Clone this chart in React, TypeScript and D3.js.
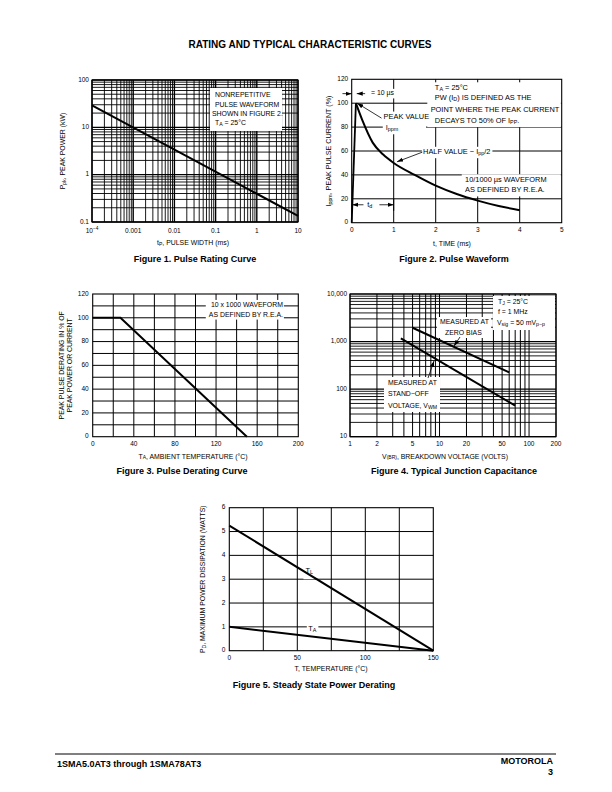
import React from "react";
import * as d3 from "d3";

const FONT = "'Liberation Sans', Arial, Helvetica, sans-serif";

// ---------- Figure 1: Pulse Rating Curve ----------
const fig1PulseWidth = [1e-4, 10];
const fig1PeakPower = [29, 0.135];
const fig1XTicks = [1e-4, 1e-3, 1e-2, 0.1, 1, 10];
const fig1XTickLabels = ["10", "0.001", "0.01", "0.1", "1", "10"];
const fig1YTicks = [0.1, 1, 10, 100];
const fig1YTickLabels = ["0.1", "1", "10", "100"];

// ---------- Figure 2: Pulse Waveform ----------
const fig2Time = [0, 0.1, 0.25, 0.5, 0.75, 1, 1.5, 2, 2.5, 3, 3.5, 4];
const fig2Current = [0, 100, 86, 67, 57, 50, 40, 31, 24, 18.5, 14, 10.5];
const fig2XTicks = [0, 1, 2, 3, 4, 5];
const fig2YTicks = [0, 20, 40, 60, 80, 100, 120];

// ---------- Figure 3: Pulse Derating Curve ----------
const fig3Temp = [0, 27, 150];
const fig3Derating = [100, 100, 0];
const fig3XTicks = [0, 40, 80, 120, 160, 200];
const fig3YTicks = [0, 20, 40, 60, 80, 100, 120];

// ---------- Figure 4: Typical Junction Capacitance ----------
const fig4ZeroBiasV = [5, 60];
const fig4ZeroBiasC = [1950, 225];
const fig4StandoffV = [3.7, 70];
const fig4StandoffC = [1170, 45];
const fig4XTicks = [1, 2, 5, 10, 20, 50, 100, 200];
const fig4YTicks = [10, 100, 1000, 10000];
const fig4YTickLabels = ["10", "100", "1,000", "10,000"];

// ---------- Figure 5: Steady State Power Derating ----------
const fig5Temp = [0, 150];
const fig5TL = [5.25, 0];
const fig5TA = [1, 0];
const fig5XTicks = [0, 50, 100, 150];
const fig5YTicks = [0, 1, 2, 3, 4, 5, 6];

function logGridValues(lo: number, hi: number): number[] {
  const out: number[] = [];
  const k0 = Math.floor(Math.log10(lo));
  const k1 = Math.ceil(Math.log10(hi));
  for (let k = k0; k <= k1; k++) {
    for (let m = 1; m <= 9; m++) {
      const v = +(m * Math.pow(10, k)).toPrecision(6);
      if (v >= lo * 0.9999 && v <= hi * 1.0001) out.push(v);
    }
  }
  return out;
}
const isDecade = (v: number) => Math.abs(Math.log10(v) - Math.round(Math.log10(v))) < 1e-6;

const F1 = { left: 92, right: 298, top: 80, bottom: 222 };
const F2 = { left: 351.7, right: 561.7, top: 79.3, bottom: 222.7 };
const F3 = { left: 92.7, right: 298.3, top: 294, bottom: 436.7 };
const F4 = { left: 350, right: 556, top: 294, bottom: 436.7 };
const F5 = { left: 229.3, right: 433.3, top: 507.7, bottom: 650.7 };

const TICK = 6.5;
const AXT = 6.9;
const ANN = 6.9;
const CAP = 9;

function Txt(props: any) {
  const { x, y, children, anchor = "start", size = TICK, weight = "normal", baseline = "middle", transform } = props;
  return (
    <text x={x} y={y} textAnchor={anchor} fontSize={size} fontWeight={weight} dominantBaseline={baseline}
      fontFamily={FONT} fill="#000" transform={transform}>{children}</text>
  );
}

function Arrow({ x1, y1, x2, y2 }: any) {
  return <line x1={x1} y1={y1} x2={x2} y2={y2} stroke="#000" strokeWidth={0.8} markerEnd="url(#arr)" />;
}

function Frame({ f }: any) {
  return <rect x={f.left} y={f.top} width={f.right - f.left} height={f.bottom - f.top} fill="none" stroke="#000" strokeWidth={1.1} />;
}

function Fig1() {
  const x = d3.scaleLog().domain([1e-4, 10]).range([F1.left, F1.right]);
  const y = d3.scaleLog().domain([0.1, 100]).range([F1.bottom, F1.top]);
  const xs = logGridValues(1e-4, 10);
  const ys = logGridValues(0.1, 100);
  const line = d3.line<number>().x((_, i) => x(fig1PulseWidth[i])).y((d) => y(d));
  return (
    <g>
      {xs.map((v, i) => <line key={"x" + i} x1={x(v)} x2={x(v)} y1={F1.top} y2={F1.bottom} stroke="#000" strokeWidth={isDecade(v) ? 1.4 : 0.9} />)}
      {ys.map((v, i) => <line key={"y" + i} y1={y(v)} y2={y(v)} x1={F1.left} x2={F1.right} stroke="#000" strokeWidth={isDecade(v) ? 1.4 : 0.9} />)}
      <Frame f={F1} />
      <rect x={210} y={88} width={72} height={43} fill="#fff" />
      <Txt x={215} y={95.5} size={ANN}>NONREPETITIVE</Txt>
      <Txt x={215} y={104.8} size={ANN}>PULSE WAVEFORM</Txt>
      <Txt x={212} y={114.1} size={ANN}>SHOWN IN FIGURE 2.</Txt>
      <Txt x={215} y={123.4} size={ANN}>T<tspan dy={1.8} fontSize={5.2}>A</tspan><tspan dy={-1.8}> = 25°C</tspan></Txt>
      <path d={line(fig1PeakPower) || ""} fill="none" stroke="#000" strokeWidth={2} />
      {fig1YTicks.map((v, i) => <Txt key={"yl" + i} x={F1.left - 3} y={y(v)} anchor="end">{fig1YTickLabels[i]}</Txt>)}
      {fig1XTicks.map((v, i) => (
        <Txt key={"xl" + i} x={x(v)} y={F1.bottom + 9} anchor="middle">
          {i === 0 ? (<>{fig1XTickLabels[i]}<tspan dy={-2.5} fontSize={4.8}>−4</tspan></>) : fig1XTickLabels[i]}
        </Txt>
      ))}
      <Txt x={(F1.left + F1.right) / 2 - 2} y={F1.bottom + 21} anchor="middle" size={AXT}>t<tspan dy={1.6} fontSize={5}>P</tspan><tspan dy={-1.6}>, PULSE WIDTH (ms)</tspan></Txt>
      <Txt x={0} y={0} anchor="middle" size={AXT} transform={`translate(63,${(F1.top + F1.bottom) / 2}) rotate(-90)`}>
        P<tspan dy={1.6} fontSize={5}>pk</tspan><tspan dy={-1.6}>, PEAK POWER (kW)</tspan>
      </Txt>
      <Txt x={195} y={260} anchor="middle" size={CAP} weight="bold">Figure 1. Pulse Rating Curve</Txt>
    </g>
  );
}

function Fig2() {
  const x = d3.scaleLinear().domain([0, 5]).range([F2.left, F2.right]);
  const y = d3.scaleLinear().domain([0, 120]).range([F2.bottom, F2.top]);
  const rise = d3.line<number>().x((_, i) => x(fig2Time[i])).y((d) => y(d));
  const decayT = fig2Time.slice(1);
  const decay = d3.line<number>().x((_, i) => x(decayT[i])).y((d) => y(d)).curve(d3.curveMonotoneX);
  const B = 7.4;
  return (
    <g>
      {fig2XTicks.slice(1, -1).map((v) => <line key={"gx" + v} x1={x(v)} x2={x(v)} y1={F2.top} y2={F2.bottom} stroke="#000" strokeWidth={1} />)}
      {fig2YTicks.slice(1, -1).map((v) => <line key={"gy" + v} y1={y(v)} y2={y(v)} x1={F2.left} x2={F2.right} stroke="#000" strokeWidth={1} />)}
      <Frame f={F2} />
      {/* top right note */}
      <rect x={x(1.8)} y={y(117.5)} width={x(4.98) - x(1.8)} height={y(80) - y(117.5)} fill="#fff" />
      <Txt x={x(1.98)} y={y(113)} size={B}>T<tspan dy={1.9} fontSize={5.4}>A</tspan><tspan dy={-1.9}> = 25°C</tspan></Txt>
      <Txt x={x(1.98)} y={y(104)} size={B}>PW (I<tspan dy={1.9} fontSize={5.4}>D</tspan><tspan dy={-1.9}>) IS DEFINED AS THE</tspan></Txt>
      <Txt x={x(1.88)} y={y(94.5)} size={B}>POINT WHERE THE PEAK CURRENT</Txt>
      <Txt x={x(1.98)} y={y(85)} size={B}>DECAYS TO 50% OF I<tspan dy={1.9} fontSize={5.4}>PP</tspan><tspan dy={-1.9}>.</tspan></Txt>
      {/* 10 us dimension */}
      <rect x={x(0.4)} y={y(112)} width={x(1.05) - x(0.4)} height={y(104) - y(112)} fill="#fff" />
      <Arrow x1={x(-0.22)} y1={y(108)} x2={x(0)} y2={y(108)} />
      <Arrow x1={x(0.32)} y1={y(108)} x2={x(0.12)} y2={y(108)} />
      <Txt x={x(0.46)} y={y(108)} size={ANN}>= 10 µs</Txt>
      {/* peak value */}
      <rect x={x(0.74)} y={y(93)} width={x(1.77) - x(0.74)} height={y(74) - y(93)} fill="#fff" />
      <Txt x={x(0.76)} y={y(88.5)} size={B}>PEAK VALUE</Txt>
      <Txt x={x(0.81)} y={y(79)} size={B}>I<tspan dy={1.9} fontSize={5.4}>ppm</tspan></Txt>
      <Arrow x1={x(0.71)} y1={y(87.5)} x2={x(0.13)} y2={y(100)} />
      {/* half value */}
      <rect x={x(1.67)} y={y(63.5)} width={x(3.35) - x(1.67)} height={y(54) - y(63.5)} fill="#fff" />
      <Txt x={x(1.7)} y={y(59)} size={B}>HALF VALUE − I<tspan dy={1.9} fontSize={5.4}>pp</tspan><tspan dy={-1.9}>/2</tspan></Txt>
      <Arrow x1={x(1.68)} y1={y(59)} x2={x(1.08)} y2={y(51)} />
      {/* waveform note */}
      <rect x={x(2.62)} y={y(40.5)} width={x(4.98) - x(2.62)} height={y(22) - y(40.5)} fill="#fff" />
      <Txt x={x(2.7)} y={y(35.5)} size={B}>10/1000 µs WAVEFORM</Txt>
      <Txt x={x(2.7)} y={y(27)} size={B}>AS DEFINED BY R.E.A.</Txt>
      {/* td dimension */}
      <rect x={x(0.03)} y={y(19)} width={x(0.97) - x(0.03)} height={y(11) - y(19)} fill="#fff" />
      <Arrow x1={x(0.28)} y1={y(15)} x2={x(0.01)} y2={y(15)} />
      <Arrow x1={x(0.66)} y1={y(15)} x2={x(1)} y2={y(15)} />
      <Txt x={x(0.37)} y={y(15)} size={B}>t<tspan dy={1.9} fontSize={5.4}>d</tspan></Txt>
      <line x1={x(1)} x2={x(1)} y1={y(20)} y2={y(10)} stroke="#000" strokeWidth={1} />
      {/* curve */}
      <path d={rise(fig2Current.slice(0, 2)) || ""} fill="none" stroke="#000" strokeWidth={1.8} />
      <path d={decay(fig2Current.slice(1)) || ""} fill="none" stroke="#000" strokeWidth={2} />
      {fig2YTicks.map((v) => <Txt key={"yl" + v} x={F2.left - 3.5} y={y(v)} anchor="end">{v}</Txt>)}
      {fig2XTicks.map((v) => <Txt key={"xl" + v} x={x(v)} y={F2.bottom + 8} anchor="middle">{v}</Txt>)}
      <Txt x={452} y={F2.bottom + 21} anchor="middle" size={AXT}>t, TIME (ms)</Txt>
      <Txt x={0} y={0} anchor="middle" size={AXT + 0.3} transform={`translate(329,${(F2.top + F2.bottom) / 2}) rotate(-90)`}>
        I<tspan dy={1.6} fontSize={5.2}>ppm</tspan><tspan dy={-1.6}>, PEAK PULSE CURRENT (%)</tspan>
      </Txt>
      <Txt x={454} y={260} anchor="middle" size={CAP} weight="bold">Figure 2. Pulse Waveform</Txt>
    </g>
  );
}

function Fig3() {
  const x = d3.scaleLinear().domain([0, 200]).range([F3.left, F3.right]);
  const y = d3.scaleLinear().domain([0, 120]).range([F3.bottom, F3.top]);
  const line = d3.line<number>().x((_, i) => x(fig3Temp[i])).y((d) => y(d));
  const gx = d3.range(20, 200, 20);
  const gy = d3.range(10, 120, 10);
  return (
    <g>
      {gx.map((v) => <line key={"gx" + v} x1={x(v)} x2={x(v)} y1={F3.top} y2={F3.bottom} stroke="#000" strokeWidth={1} />)}
      {gy.map((v) => <line key={"gy" + v} y1={y(v)} y2={y(v)} x1={F3.left} x2={F3.right} stroke="#000" strokeWidth={1} />)}
      <Frame f={F3} />
      <rect x={x(110)} y={y(115)} width={x(186) - x(110)} height={y(98.5) - y(115)} fill="#fff" />
      <Txt x={x(115)} y={y(110.5)} size={ANN}>10 x 1000 WAVEFORM</Txt>
      <Txt x={x(113)} y={y(102.3)} size={ANN}>AS DEFINED BY R.E.A.</Txt>
      <path d={line(fig3Derating) || ""} fill="none" stroke="#000" strokeWidth={2} />
      {fig3YTicks.map((v) => <Txt key={"yl" + v} x={F3.left - 4} y={y(v)} anchor="end">{v}</Txt>)}
      {fig3XTicks.map((v) => <Txt key={"xl" + v} x={x(v)} y={F3.bottom + 8} anchor="middle">{v}</Txt>)}
      <Txt x={193} y={F3.bottom + 20} anchor="middle" size={AXT}>T<tspan dy={1.6} fontSize={5}>A</tspan><tspan dy={-1.6}>, AMBIENT TEMPERATURE (°C)</tspan></Txt>
      <Txt x={0} y={0} anchor="middle" size={AXT} transform={`translate(62,${(F3.top + F3.bottom) / 2}) rotate(-90)`}>PEAK PULSE DERATING IN % OF</Txt>
      <Txt x={0} y={0} anchor="middle" size={AXT} transform={`translate(70.5,${(F3.top + F3.bottom) / 2}) rotate(-90)`}>PEAK POWER OR CURRENT</Txt>
      <Txt x={182} y={472} anchor="middle" size={CAP} weight="bold">Figure 3. Pulse Derating Curve</Txt>
    </g>
  );
}

function Fig4() {
  const x = d3.scaleLog().domain([1, 200]).range([F4.left, F4.right]);
  const y = d3.scaleLog().domain([10, 10000]).range([F4.bottom, F4.top]);
  const xs = logGridValues(1, 200);
  const ys = logGridValues(10, 10000);
  const zero = d3.line<number>().x((_, i) => x(fig4ZeroBiasV[i])).y((d) => y(d));
  const stand = d3.line<number>().x((_, i) => x(fig4StandoffV[i])).y((d) => y(d));
  return (
    <g>
      {xs.map((v, i) => <line key={"x" + i} x1={x(v)} x2={x(v)} y1={F4.top} y2={F4.bottom} stroke="#000" strokeWidth={1} />)}
      {ys.map((v, i) => <line key={"y" + i} y1={y(v)} y2={y(v)} x1={F4.left} x2={F4.right} stroke="#000" strokeWidth={isDecade(v) ? 1.2 : 0.9} />)}
      <Frame f={F4} />
      <rect x={493} y={296} width={62} height={34} fill="#fff" />
      <Txt x={498} y={302} size={ANN}>T<tspan dy={1.8} fontSize={5.2}>J</tspan><tspan dy={-1.8}> = 25°C</tspan></Txt>
      <Txt x={498} y={312.5} size={ANN}>f = 1 MHz</Txt>
      <Txt x={497} y={323} size={ANN}>V<tspan dy={1.8} fontSize={5.2}>sig</tspan><tspan dy={-1.8}> = 50 mV</tspan><tspan dy={1.8} fontSize={5.2}>p−p</tspan></Txt>
      <rect x={437} y={317} width={54} height={21} fill="#fff" />
      <Txt x={440} y={322.5} size={ANN}>MEASURED AT</Txt>
      <Txt x={445} y={333} size={ANN}>ZERO BIAS</Txt>
      <rect x={384} y={377} width={56} height={35} fill="#fff" />
      <Txt x={388} y={383} size={ANN}>MEASURED AT</Txt>
      <Txt x={388} y={394.5} size={ANN}>STAND−OFF</Txt>
      <Txt x={388} y={406} size={ANN}>VOLTAGE, V<tspan dy={1.8} fontSize={5.2}>WM</tspan></Txt>
      <path d={zero(fig4ZeroBiasC) || ""} fill="none" stroke="#000" strokeWidth={2} />
      <path d={stand(fig4StandoffC) || ""} fill="none" stroke="#000" strokeWidth={2} />
      <Arrow x1={460} y1={337} x2={454} y2={346} />
      <Arrow x1={428} y1={378} x2={434} y2={361} />
      {fig4YTicks.map((v, i) => <Txt key={"yl" + i} x={F4.left - 3} y={y(v)} anchor="end">{fig4YTickLabels[i]}</Txt>)}
      {fig4XTicks.map((v) => <Txt key={"xl" + v} x={x(v)} y={F4.bottom + 8} anchor="middle">{v}</Txt>)}
      <Txt x={445} y={F4.bottom + 20} anchor="middle" size={AXT}>V<tspan dy={1.6} fontSize={5}>(BR)</tspan><tspan dy={-1.6}>, BREAKDOWN VOLTAGE (VOLTS)</tspan></Txt>
      <Txt x={454} y={472} anchor="middle" size={CAP} weight="bold">Figure 4. Typical Junction Capacitance</Txt>
    </g>
  );
}

function Fig5() {
  const x = d3.scaleLinear().domain([0, 150]).range([F5.left, F5.right]);
  const y = d3.scaleLinear().domain([0, 6]).range([F5.bottom, F5.top]);
  const lTL = d3.line<number>().x((_, i) => x(fig5Temp[i])).y((d) => y(d));
  const gx = d3.range(25, 150, 25);
  const gy = d3.range(1, 6, 1);
  return (
    <g>
      {gx.map((v) => <line key={"gx" + v} x1={x(v)} x2={x(v)} y1={F5.top} y2={F5.bottom} stroke="#000" strokeWidth={1} />)}
      {gy.map((v) => <line key={"gy" + v} y1={y(v)} y2={y(v)} x1={F5.left} x2={F5.right} stroke="#000" strokeWidth={1} />)}
      <Frame f={F5} />
      <rect x={x(54.5)} y={y(3.6)} width={x(63) - x(54.5)} height={y(3.0) - y(3.6)} fill="#fff" />
      <Txt x={x(56)} y={y(3.35)} size={7.4}>T<tspan dy={1.9} fontSize={5.4}>L</tspan></Txt>
      <rect x={x(57)} y={y(1.15)} width={x(65.5) - x(57)} height={y(0.6) - y(1.15)} fill="#fff" />
      <Txt x={x(58)} y={y(0.9)} size={7.4}>T<tspan dy={1.9} fontSize={5.4}>A</tspan></Txt>
      <path d={lTL(fig5TL) || ""} fill="none" stroke="#000" strokeWidth={2} />
      <path d={lTL(fig5TA) || ""} fill="none" stroke="#000" strokeWidth={2} />
      {fig5YTicks.map((v) => <Txt key={"yl" + v} x={F5.left - 4} y={y(v)} anchor="end">{v}</Txt>)}
      {fig5XTicks.map((v) => <Txt key={"xl" + v} x={x(v)} y={F5.bottom + 8} anchor="middle">{v}</Txt>)}
      <Txt x={331} y={F5.bottom + 18} anchor="middle" size={AXT}>T, TEMPERATURE (°C)</Txt>
      <Txt x={0} y={0} anchor="middle" size={AXT} transform={`translate(203,${(F5.top + F5.bottom) / 2}) rotate(-90)`}>
        P<tspan dy={1.6} fontSize={5}>D</tspan><tspan dy={-1.6}>, MAXIMUM POWER DISSIPATION (WATTS)</tspan>
      </Txt>
      <Txt x={314} y={686} anchor="middle" size={CAP} weight="bold">Figure 5. Steady State Power Derating</Txt>
    </g>
  );
}

export default function App() {
  return (
    <svg width={612} height={792} viewBox="0 0 612 792"
      style={{ position: "absolute", left: 0, top: 0, background: "#fff" }}>
      <defs>
        <marker id="arr" viewBox="0 0 10 10" refX="10" refY="5" markerWidth="6" markerHeight="6"
          markerUnits="userSpaceOnUse" orient="auto">
          <path d="M0,1.5 L10,5 L0,8.5 z" fill="#000" />
        </marker>
      </defs>
      <rect x={0} y={0} width={612} height={792} fill="#fff" />
      <Txt x={310} y={45} anchor="middle" size={10} weight="bold">RATING AND TYPICAL CHARACTERISTIC CURVES</Txt>
      <Fig1 />
      <Fig2 />
      <Fig3 />
      <Fig4 />
      <Fig5 />
      <line x1={55} x2={556} y1={754} y2={754} stroke="#000" strokeWidth={1} />
      <Txt x={57} y={765} size={9} weight="bold">1SMA5.0AT3 through 1SMA78AT3</Txt>
      <Txt x={553} y={762} anchor="end" size={9} weight="bold">MOTOROLA</Txt>
      <Txt x={553} y={773} anchor="end" size={9} weight="bold">3</Txt>
    </svg>
  );
}
